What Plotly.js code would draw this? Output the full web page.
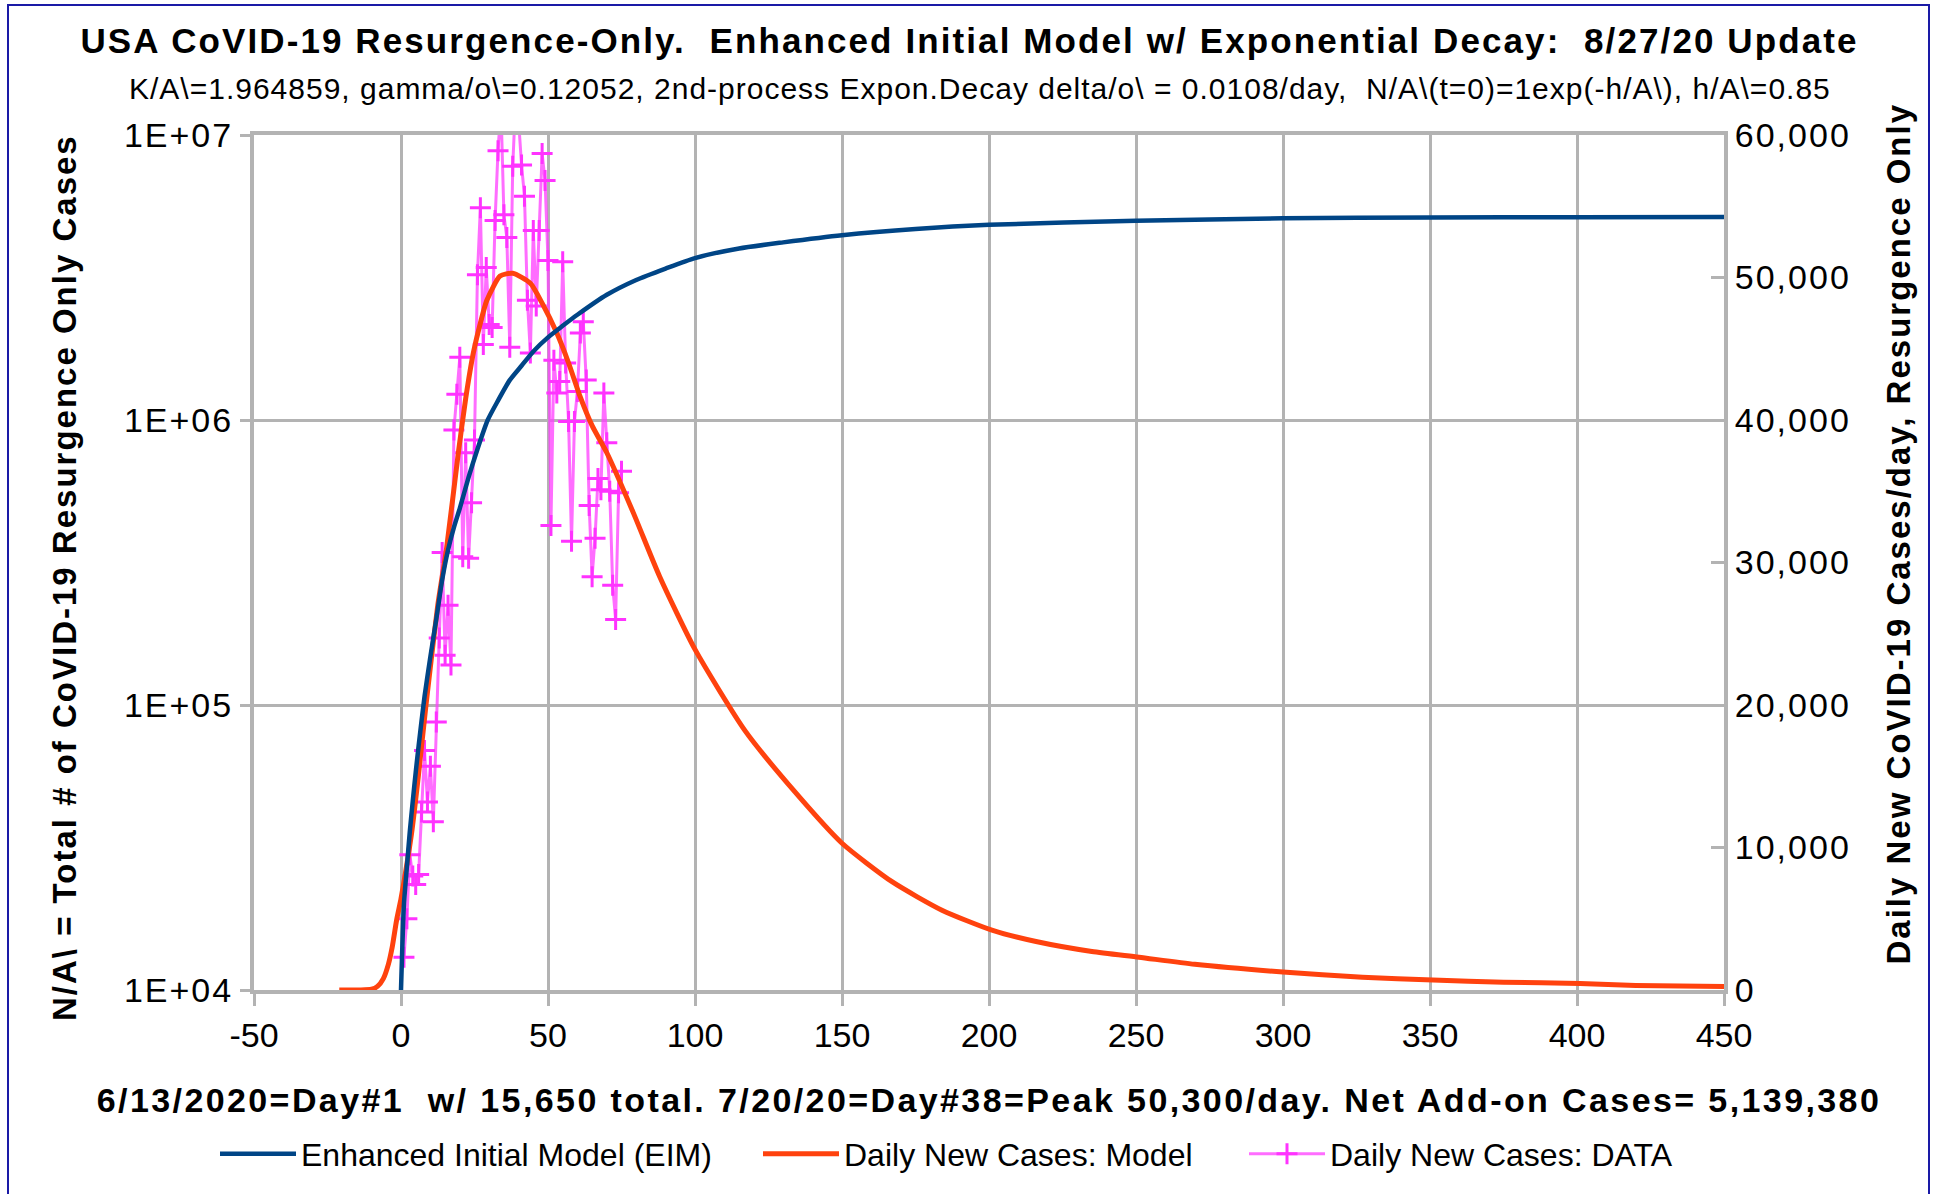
<!DOCTYPE html>
<html>
<head>
<meta charset="utf-8">
<script src="https://cdn.plot.ly/plotly-3.0.1.min.js"></script>
<style>
  html, body { margin: 0; padding: 0; background: #ffffff; overflow: hidden; }
  #chart { width: 1939px; height: 1194px; position: absolute; left: 0; top: 0; }
  #frame { position: absolute; left: 7px; top: 4px; width: 1919px; height: 1220px; border: 2px solid #1a1aa6; pointer-events: none; }
  .gtitle { letter-spacing: 2.1px; }
  .annotation-text { letter-spacing: 1px; }
  .annotation[data-index="1"] .annotation-text, .annotation[data-index="2"] .annotation-text { letter-spacing: 2px; }
  .xtitle { letter-spacing: 2.4px; }
  .ytick text, .y2tick text { letter-spacing: 2px; }
</style>
</head>
<body>
<div id="chart"></div>
<div id="frame"></div>
<script>
// ---- Enhanced Initial Model (cumulative cases, left log axis) ----
const eimDay = [0, 1, 2, 3, 4, 5, 6, 8, 10, 12, 14, 16, 18, 20, 23, 26, 29.5, 33, 37, 41, 45, 50, 55, 60, 70, 80, 90, 100, 115, 130, 150, 175, 200, 250, 300, 350, 400, 450];
const eimCases = [10000, 20000, 27000, 36000, 46000, 58000, 72000, 107000, 148000, 200000, 275000, 350000, 420000, 490000, 630000, 790000, 1000000, 1170000, 1380000, 1550000, 1740000, 1950000, 2140000, 2340000, 2750000, 3100000, 3400000, 3700000, 4000000, 4200000, 4450000, 4680000, 4840000, 5000000, 5100000, 5140000, 5150000, 5160000];

// ---- Daily new cases: model (right axis) ----
const modelDay = [-21, -14, -10, -8, -6, -4.3, -3, -1.5, 0, 1.5, 3.6, 6, 8.5, 12.5, 15.5, 19.5, 22, 24.6, 27, 29.2, 33.7, 38, 44, 48, 53, 57, 61, 65, 70, 79, 88, 100, 117, 134, 150, 167, 184, 201, 216, 235, 251, 270, 300, 327, 351, 375, 401, 420, 450];
const modelDaily = [0, 0, 50, 250, 800, 1800, 3000, 4900, 6400, 8200, 11000, 15200, 20000, 27000, 31000, 37700, 41500, 44700, 46800, 48400, 50100, 50300, 49600, 48200, 46100, 44000, 41600, 39600, 37700, 33500, 29000, 23900, 18200, 13900, 10300, 7600, 5600, 4200, 3400, 2700, 2300, 1800, 1260, 900, 700, 550, 450, 320, 250];

// ---- Daily new cases: data (right axis) ----
const dataDay = [1, 2, 3, 4, 5, 6, 7, 8, 9, 10, 11, 12, 13, 14, 15, 16, 17, 18, 19, 20, 21, 22, 23, 24, 25, 26, 27, 28, 29, 30, 31, 32, 33, 34, 35, 36, 37, 38, 39, 40, 41, 42, 43, 44, 45, 46, 47, 48, 49, 50, 51, 52, 53, 54, 55, 56, 57, 58, 59, 60, 61, 62, 63, 64, 65, 66, 67, 68, 69, 70, 71, 72, 73, 74, 75];
const dataDaily = [2300, 5000, 9500, 8000, 7400, 8100, 12500, 16800, 13200, 15700, 11800, 18800, 24700, 30700, 23500, 27000, 22800, 39300, 41800, 44400, 30400, 37700, 30300, 34200, 38600, 50200, 54900, 45300, 50700, 46700, 46500, 54000, 58900, 62000, 54400, 52800, 45100, 57800, 62500, 61000, 57900, 55700, 48400, 44700, 53300, 48000, 53300, 58700, 56800, 51200, 32600, 44200, 41900, 42700, 51100, 44000, 39900, 31500, 39900, 42000, 46100, 46900, 42800, 34000, 29000, 31700, 35900, 35100, 41900, 38400, 35000, 28400, 26000, 34900, 36400];

// ---- axis ticks / labels ----
const xTicks = [-50, 0, 50, 100, 150, 200, 250, 300, 350, 400, 450];
const leftTickVals = [10000, 100000, 1000000, 10000000];
const leftTickText = ['1E+04', '1E+05', '1E+06', '1E+07'];
const rightTickVals = [0, 10000, 20000, 30000, 40000, 50000, 60000];
const rightTickText = ['0', '10,000', '20,000', '30,000', '40,000', '50,000', '60,000'];

const FONT = '"Liberation Sans", Arial, Helvetica, sans-serif';
const GRID = '#b3b3b3';
const L = 254, PW = 1470, B = 990, PH = 855;   // plot-area geometry (px) for text placement

const traces = [
  {
    x: dataDay, y: dataDaily, yaxis: 'y', type: 'scatter', mode: 'lines+markers',
    name: 'Daily New Cases: DATA', legend: 'legend3',
    line: { color: 'rgba(255,60,255,0.75)', width: 3 },
    marker: { symbol: 'cross-thin', size: 15, line: { color: '#ff33ff', width: 3 }, color: '#ff33ff' }
  },
  {
    x: modelDay, y: modelDaily, yaxis: 'y', type: 'scatter', mode: 'lines',
    name: 'Daily New Cases: Model', legend: 'legend2',
    line: { color: '#ff420e', width: 5, shape: 'spline', smoothing: 0.6 }
  },
  {
    x: eimDay, y: eimCases, yaxis: 'y2', type: 'scatter', mode: 'lines',
    name: 'Enhanced Initial Model (EIM)', legend: 'legend',
    line: { color: '#004586', width: 4.5, shape: 'spline', smoothing: 0.6 }
  }
];

function legendAt(px) {
  return {
    orientation: 'h', x: (px - L) / PW, xanchor: 'left', y: (B - 1154) / PH, yanchor: 'middle',
    font: { family: FONT, size: 32, color: '#000000' },
    bgcolor: 'rgba(0,0,0,0)', itemwidth: 76
  };
}

const layout = {
  width: 1939, height: 1194,
  margin: { l: 254, r: 215, t: 135, b: 204 },
  paper_bgcolor: '#ffffff', plot_bgcolor: '#ffffff',
  font: { family: FONT, color: '#000000', size: 33 },
  showlegend: true,
  title: {
    text: 'USA CoVID-19 Resurgence-Only.\u00a0 Enhanced Initial Model w/ Exponential Decay:\u00a0 8/27/20 Update',
    font: { family: FONT, size: 35, color: '#000000', weight: 'bold' },
    x: 0.5, xanchor: 'center', y: 1 - 41 / 1194, yanchor: 'middle', yref: 'container'
  },
  annotations: [
    {
      text: 'K/A\\=1.964859, gamma/o\\=0.12052, 2nd-process Expon.Decay delta/o\\ = 0.0108/day,\u00a0 N/A\\(t=0)=1exp(-h/A\\), h/A\\=0.85',
      xref: 'paper', yref: 'paper', x: (980 - L) / PW, y: (B - 89) / PH,
      xanchor: 'center', yanchor: 'middle', showarrow: false,
      font: { family: FONT, size: 30, color: '#000000' }
    },
    {
      text: 'N/A\\ = Total # of CoVID-19 Resurgence Only Cases',
      xref: 'paper', yref: 'paper', x: (64 - L) / PW, y: (B - 578) / PH,
      xanchor: 'center', yanchor: 'middle', showarrow: false, textangle: -90,
      font: { family: FONT, size: 33, color: '#000000', weight: 'bold' }
    },
    {
      text: 'Daily New CoVID-19 Cases/day, Resurgence Only',
      xref: 'paper', yref: 'paper', x: (1898 - L) / PW, y: (B - 534) / PH,
      xanchor: 'center', yanchor: 'middle', showarrow: false, textangle: -90,
      font: { family: FONT, size: 33, color: '#000000', weight: 'bold' }
    }
  ],
  xaxis: {
    range: [-50, 450], tickvals: xTicks, ticktext: xTicks.map(String),
    showgrid: true, gridcolor: GRID, gridwidth: 3,
    showline: true, linecolor: GRID, linewidth: 4, mirror: true,
    ticks: 'outside', ticklen: 12, tickcolor: GRID, tickwidth: 3,
    zeroline: false,
    tickfont: { family: FONT, size: 34, color: '#000000' },
    title: {
      text: '6/13/2020=Day#1\u00a0 w/ 15,650 total. 7/20/20=Day#38=Peak 50,300/day. Net Add-on Cases= 5,139,380',
      font: { family: FONT, size: 34, color: '#000000', weight: 'bold' },
      standoff: 36
    },
    automargin: false
  },
  yaxis: {
    side: 'right', range: [0, 60000], tickvals: rightTickVals, ticktext: rightTickText,
    showgrid: false, zeroline: false,
    showline: true, linecolor: GRID, linewidth: 4,
    ticks: 'inside', ticklen: 13, tickcolor: GRID, tickwidth: 3,
    tickfont: { family: FONT, size: 34, color: '#000000' },
    automargin: false
  },
  yaxis2: {
    overlaying: 'y', side: 'left', type: 'log', range: [4, 7],
    tickvals: leftTickVals, ticktext: leftTickText,
    showgrid: true, gridcolor: GRID, gridwidth: 3,
    showline: true, linecolor: GRID, linewidth: 4,
    ticks: 'outside', ticklen: 10, tickcolor: GRID, tickwidth: 3,
    zeroline: false,
    tickfont: { family: FONT, size: 34, color: '#000000' },
    automargin: false
  },
  legend: legendAt(215),
  legend2: legendAt(758),
  legend3: legendAt(1244)
};

Plotly.newPlot('chart', traces, layout, { displayModeBar: false, staticPlot: true });
</script>
</body>
</html>
